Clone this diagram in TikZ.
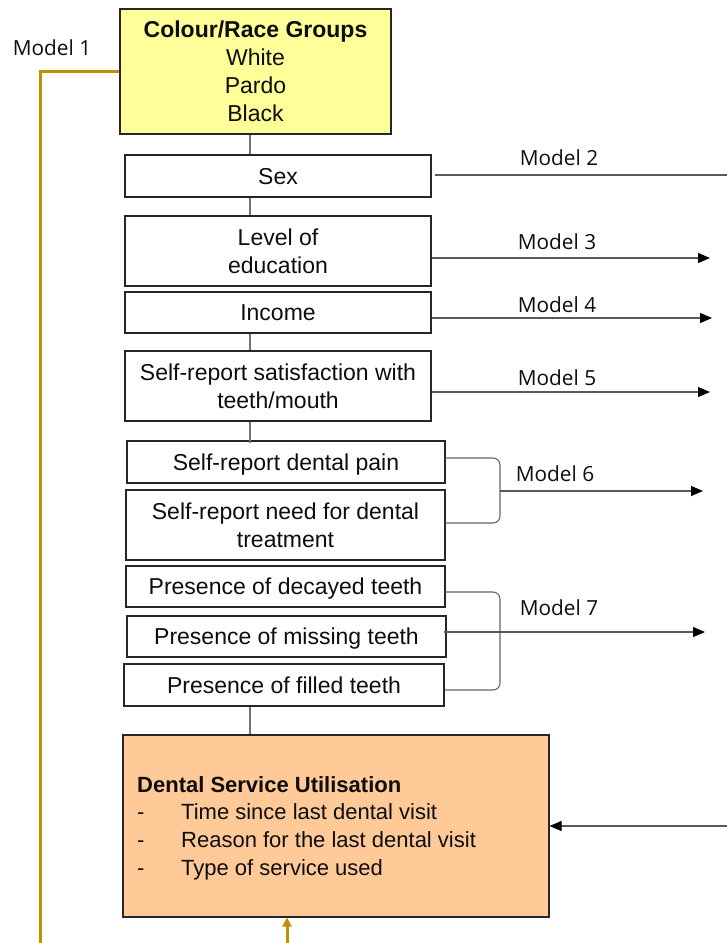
\documentclass[tikz,border=0pt]{standalone}
\usepackage{fontspec}
\setmainfont{Liberation Sans}
\newfontfamily\labelfont{Open Sans}
\usetikzlibrary{arrows.meta,calc}
\definecolor{raceyellow}{HTML}{FFFF99}
\definecolor{dsuorange}{HTML}{FFCA98}
\definecolor{goldline}{HTML}{BF9000}
\definecolor{inkc}{HTML}{0D0D0D}
\tikzset{
  varbox/.style={draw=black!85, line width=1.1pt, fill=white, rectangle,
    inner sep=0pt, align=center, text=inkc,
    font=\fontsize{23}{28}\selectfont},
  onebox/.style={varbox, text height=18pt, text depth=2pt},
  spinelink/.style={draw=black!55, line width=1.1pt},
  modelline/.style={draw=black!65, line width=1.1pt},
  modelarrow/.style={modelline, -{Triangle[length=12pt,width=10pt,fill=black,color=black]}},
  modellabel/.style={font=\labelfont\fontsize{20.8}{24}\selectfont, text=inkc, inner sep=0pt},
  bracket/.style={draw=black!60, line width=1.1pt, rounded corners=7pt},
  goldpath/.style={draw=goldline, line width=3pt},
}
\begin{document}
\begin{tikzpicture}[x=1pt,y=-1pt]
\useasboundingbox (0,0) rectangle (727,943);

% variable boxes
\node[varbox, fill=raceyellow, minimum width=271pt, minimum height=125pt] (race) at (255.5,71.5)
  {\textbf{Colour/Race Groups}\\White\\Pardo\\Black};
\node[onebox, minimum width=306pt, minimum height=42pt] (sex) at (278,176) {Sex};
\node[varbox, minimum width=306pt, minimum height=70pt] (edu) at (278,251) {Level of\\education};
\node[onebox, minimum width=306pt, minimum height=41pt] (inc) at (278,312.5) {Income};
\node[varbox, minimum width=306pt, minimum height=70pt] (sat) at (278,386)
  {Self-report satisfaction with\\teeth/mouth};
\node[onebox, minimum width=318pt, minimum height=42pt] (pain) at (286,462) {Self-report dental pain};
\node[varbox, minimum width=319pt, minimum height=70pt] (need) at (285.5,525)
  {Self-report need for dental\\treatment};
\node[onebox, minimum width=319pt, minimum height=41pt] (dec) at (285.5,586.5) {Presence of decayed teeth};
\node[onebox, minimum width=319pt, minimum height=41pt] (miss) at (286.5,636.5) {Presence of missing teeth};
\node[onebox, minimum width=320pt, minimum height=42pt] (fill) at (284,685) {Presence of filled teeth};

% outcome box
\node[varbox, fill=dsuorange, minimum width=426pt, minimum height=182pt] (dsu) at (336,826) {};
\begin{scope}[every node/.style={font=\fontsize{22}{28}\selectfont, text=inkc, inner sep=0pt,
    text height=20pt, text depth=3pt, anchor=west}]
  \node (dsutitle) at (137,784) {\textbf{Dental Service Utilisation}};
  \node (d1) at (137,811) {-};
  \node (i1) at (181,811) {Time since last dental visit};
  \node (d2) at (137,839) {-};
  \node (i2) at (181,839) {Reason for the last dental visit};
  \node (d3) at (137,867) {-};
  \node (i3) at (181,867) {Type of service used};
\end{scope}

% vertical spine links
\coordinate (spine) at (250,0);
\draw[spinelink] (race.south -| spine) -- (sex.north -| spine);
\draw[spinelink] (sex.south -| spine) -- (edu.north -| spine);
\draw[spinelink] (inc.south -| spine) -- (sat.north -| spine);
\draw[spinelink] (sat.south -| spine) -- ([yshift=-3pt]pain.north -| spine);
\draw[spinelink] (fill.south -| spine) -- (dsu.north -| spine);

% model connectors
\coordinate (e2) at (727,175);
\coordinate (e3) at (710,258);
\coordinate (e4) at (712,318);
\coordinate (e5) at (710,392);
\coordinate (e6) at (703,491);
\coordinate (e7) at (705,632);
\coordinate (b6) at (500,0);
\coordinate (eout) at (727,826);

\draw[modelline] ([xshift=3pt]sex.east |- e2) -- (e2);
\draw[modelarrow] (edu.east |- e3) -- (e3);
\draw[modelarrow] (inc.east |- e4) -- (e4);
\draw[modelarrow] (sat.east |- e5) -- (e5);

\draw[bracket] (pain.east |- 0,458) -- (b6 |- 0,458) -- (b6 |- 0,523) -- (need.east |- 0,523);
\draw[modelarrow] (b6 |- e6) -- (e6);

\draw[bracket] (dec.east |- 0,592) -- (b6 |- 0,592) -- (b6 |- 0,690) -- (fill.east |- 0,690);
\draw[modelarrow] ([xshift=-3pt]miss.east |- e7) -- (e7);

\draw[modelarrow] (eout) -- (dsu.east |- eout);

% model 1 path and bottom arrow
\coordinate (g1) at (40,943);
\coordinate (gb) at (287,943);
\draw[goldpath] (race.west) -| (g1);
\draw[goldpath, -{Triangle[length=9pt,width=9pt]}] (gb) -- (dsu.south -| gb);

% model labels
\node[modellabel] (m1) at (52,48) {Model 1};
\node[modellabel] (m2) at (559,158) {Model 2};
\node[modellabel] (m3) at (557,242) {Model 3};
\node[modellabel] (m4) at (557,305) {Model 4};
\node[modellabel] (m5) at (557,378) {Model 5};
\node[modellabel] (m6) at (555,474) {Model 6};
\node[modellabel] (m7) at (559,608) {Model 7};
\end{tikzpicture}
\end{document}
